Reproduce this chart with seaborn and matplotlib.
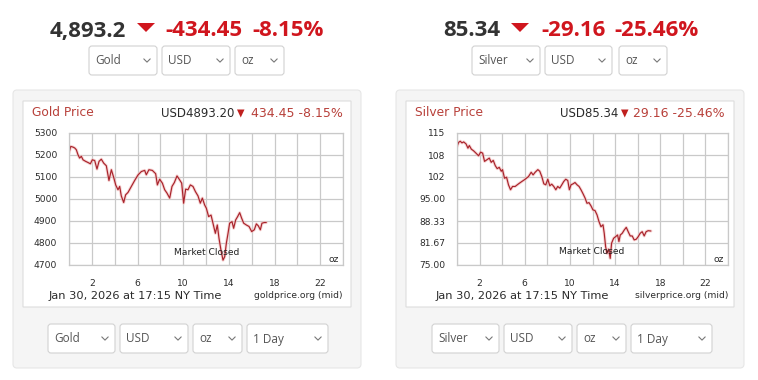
import pandas as pd
import matplotlib.pyplot as plt
import seaborn as sns
from matplotlib.patches import FancyBboxPatch, Polygon

# gold, hours since midnight vs price (USD/oz)
gold_hours = [0.0, 0.15, 0.35, 0.5, 0.64, 0.79, 0.93, 1.08, 1.23, 1.46, 1.66, 1.87, 2.04, 2.25, 2.45,
              2.63, 2.83, 3.04, 3.27, 3.5, 3.71, 3.91, 4.09, 4.29, 4.44, 4.58, 4.79, 4.96, 5.17, 5.46,
              5.75, 6.04, 6.34, 6.63, 6.77, 7.0, 7.3, 7.59, 7.74, 7.94, 8.18, 8.38, 8.58, 8.82, 9.02,
              9.23, 9.46, 9.69, 9.87, 10.04, 10.22, 10.42, 10.63, 10.86, 11.07, 11.3, 11.5, 11.68, 11.88,
              12.03, 12.23, 12.44, 12.61, 12.82, 12.99, 13.14, 13.31, 13.49, 13.64, 13.78, 13.93, 14.07,
              14.28, 14.42, 14.6, 14.77, 14.95, 15.12, 15.3, 15.53, 15.77, 16.0, 16.23, 16.41, 16.58,
              16.76, 16.9, 17.11, 17.28]
gold_prices = [5209, 5239, 5236, 5232, 5224, 5201, 5186, 5194, 5178, 5171, 5166, 5160, 5178, 5175, 5136,
               5171, 5181, 5163, 5151, 5084, 5133, 5099, 5064, 5042, 5057, 5014, 4984, 5019, 5030, 5057,
               5084, 5109, 5125, 5130, 5110, 5133, 5130, 5115, 5064, 5090, 5072, 5042, 5027, 5004, 5057,
               5075, 5105, 5087, 5072, 4981, 5045, 5042, 5064, 5057, 5034, 5014, 4981, 5004, 4973,
               4958, 4920, 4927, 4890, 4844, 4882, 4821, 4768, 4722, 4738, 4798, 4844, 4890,
               4897, 4867, 4905, 4920, 4938, 4913, 4890, 4882, 4875, 4852, 4860, 4887, 4878,
               4860, 4890, 4893, 4893]

silver_hours = [0.0, 0.15, 0.29, 0.44, 0.59, 0.8, 0.97, 1.09, 1.27, 1.47, 1.68, 1.91, 2.09, 2.27, 2.44,
                2.65, 2.86, 3.03, 3.21, 3.39, 3.56, 3.74, 3.92, 4.03, 4.21, 4.39, 4.56, 4.74, 4.92, 5.15,
                5.45, 5.74, 6.04, 6.33, 6.57, 6.74, 6.92, 7.16, 7.33, 7.51, 7.69, 7.86, 8.04, 8.22, 8.39,
                8.57, 8.75, 8.92, 9.1, 9.28, 9.45, 9.63, 9.81, 9.95, 10.1, 10.28, 10.45, 10.63, 10.81,
                10.98, 11.16, 11.34, 11.51, 11.69, 11.87, 12.04, 12.22, 12.4, 12.57, 12.75, 12.93, 13.04,
                13.16, 13.28, 13.43, 13.57, 13.69, 13.87, 14.05, 14.22, 14.34, 14.46, 14.63, 14.81, 14.99,
                15.16, 15.34, 15.52, 15.69, 15.87, 16.05, 16.22, 16.4, 16.58, 16.75, 16.93, 17.17]
silver_prices = [110.9, 112.2, 112.5, 112.0, 112.3, 111.7, 110.4, 111.2, 110.1, 109.6, 108.9, 108.1, 109.2,
                 108.9, 106.4, 106.9, 107.4, 106.1, 106.7, 105.1, 104.2, 104.6, 103.4, 103.9, 101.3, 101.6,
                 99.3, 97.8, 98.8, 98.8, 99.6, 100.3, 101.0, 101.8, 103.1, 102.3, 103.1, 103.9, 103.4, 101.8,
                 99.6, 99.3, 101.0, 99.0, 99.5, 98.8, 97.8, 98.8, 98.3, 99.3, 100.3, 101.0, 100.6, 97.8,
                 99.3, 99.6, 100.0, 99.3, 98.8, 97.8, 96.6, 95.3, 93.7, 93.9, 92.9, 91.7, 91.5, 90.2, 88.2,
                 86.6, 87.2, 84.6, 80.6, 78.5, 79.8, 77.0, 81.6, 83.1, 83.6, 84.1, 82.1, 84.1, 84.6, 85.6,
                 86.4, 85.1, 83.8, 83.8, 82.6, 82.8, 83.6, 84.6, 85.1, 83.8, 85.1, 85.4, 85.3]

hour_ticks = list(range(0, 25, 2))
hour_labels = ['', '2', '', '6', '', '10', '', '14', '', '18', '', '22', '']
gold_yticks = [4700, 4800, 4900, 5000, 5100, 5200, 5300]
gold_ylabels = ['4700', '4800', '4900', '5000', '5100', '5200', '5300']
silver_yticks = [75.0, 81.67, 88.33, 95.0, 101.67, 108.33, 115.0]
silver_ylabels = ['75.00', '81.67', '88.33', '95.00', '102', '108', '115']

sns.set_style('white')
plt.rcParams['font.family'] = ['DejaVu Sans']

RED = '#d0161e'
SOFT_RED = '#b8403a'
DARK = '#2b2b2b'
W, H = 758, 380

fig = plt.figure(figsize=(W / 100, H / 100), dpi=100)
bg = fig.add_axes([0, 0, 1, 1])
bg.set_xlim(0, W)
bg.set_ylim(H, 0)
bg.axis('off')


def box(x0, y0, x1, y1, fc, ec, r=3, lw=0.8):
    bg.add_patch(FancyBboxPatch((x0, y0), x1 - x0, y1 - y0, boxstyle=f'round,pad=0,rounding_size={r}',
                                fc=fc, ec=ec, lw=lw))


def dropdown(x0, x1, y0, y1, label):
    box(x0, y0, x1, y1, 'white', '#d2d2d2', r=3)
    ym = (y0 + y1) / 2
    bg.text(x0 + 6, ym + 0.5, label, fontsize=8.5, color='#555555', family='Open Sans', va='center', ha='left')
    cx = x1 - 10
    bg.plot([cx - 3.2, cx, cx + 3.2], [ym - 1.6, ym + 1.6, ym - 1.6], color='#777777', lw=0.8)


def down_tri(x0, x1, y0, y1, color):
    bg.add_patch(Polygon([(x0, y0), (x1, y0), ((x0 + x1) / 2, y1)], closed=True, fc=color, ec='none'))


def panel(ox, metal, price_big, tri_x, chg, pct, big_pos, top_dd, bot_dd, px0, px1,
          hours, prices, yticks, ylabels, ylim, title_price, chg_small, tri_small, site, footer_x, mc_pos):
    # header
    bg.text(big_pos[0], 31, price_big, fontsize=16, weight='bold', family='Open Sans', color='#333333',
            ha='left', va='center')
    down_tri(tri_x, tri_x + 18, 23, 32, RED)
    bg.text(big_pos[1], 31, chg, fontsize=16, weight='bold', family='Open Sans', color=RED, ha='left', va='center')
    bg.text(big_pos[2], 31, pct, fontsize=16, weight='bold', family='Open Sans', color=RED, ha='left', va='center')
    for (a, b, lab) in top_dd:
        dropdown(a, b, 46, 75, lab)

    # grey panel + white chart box
    box(ox, 90, ox + 348, 368, '#f5f5f5', '#e6e6e6', r=4)
    box(ox + 10, 101, ox + 338, 307, 'white', '#dddddd', r=0)
    for (a, b, lab) in bot_dd:
        dropdown(a, b, 324, 353, lab)

    bg.text(ox + 19, 112, f'{metal} Price', fontsize=8.8, color=SOFT_RED, ha='left', va='center')
    bg.text(chg_small[0], 113.5, chg_small[1], fontsize=9, color=SOFT_RED, ha='right', va='center')
    down_tri(tri_small, tri_small + 7.5, 109.5, 117.5, '#c0201e')
    bg.text(tri_small - 3, 113.5, title_price, fontsize=8.5, color=DARK, ha='right', va='center')
    bg.text(footer_x, 296, 'Jan 30, 2026 at 17:15 NY Time', fontsize=8.2, color=DARK, ha='left', va='center')
    bg.text(px1, 296, site, fontsize=6.6, color=DARK, ha='right', va='center')

    ax = fig.add_axes([px0 / W, 1 - 265 / H, (px1 - px0) / W, 132 / H])
    df = pd.DataFrame({'hour': hours, 'price': prices})
    sns.lineplot(data=df, x='hour', y='price', ax=ax, color='#f2b8b8', linewidth=2.2, alpha=0.6)
    sns.lineplot(data=df, x='hour', y='price', ax=ax, color='#a8232b', linewidth=0.85)
    ax.set_xlim(0, 24)
    ax.set_ylim(*ylim)
    ax.set_xticks(hour_ticks)
    ax.set_xticklabels(hour_labels)
    ax.set_yticks(yticks)
    ax.set_yticklabels(ylabels)
    ax.set_xlabel('')
    ax.set_ylabel('')
    ax.grid(True, color='#c9c9c9', linewidth=0.9)
    ax.set_axisbelow(True)
    for s in ax.spines.values():
        s.set_color('#c9c9c9')
        s.set_linewidth(0.9)
    ax.tick_params(axis='both', length=0, labelsize=6.6, colors=DARK)
    ax.tick_params(axis='x', pad=10)
    ax.tick_params(axis='y', pad=8.5)
    ax.text(mc_pos[0], mc_pos[1], 'Market Closed', fontsize=6.6, color='#222222', ha='center', va='center')
    ax.text(23.6, ylim[0] + (ylim[1] - ylim[0]) * 0.045, 'oz', fontsize=6.6, color=DARK, ha='right', va='center')
    return ax


panel(13, 'Gold', '4,893.2', 137, '-434.45', '-8.15%', (50, 165, 252),
      [(89, 157, 'Gold'), (162, 230, 'USD'), (235, 284, 'oz')],
      [(48, 115, 'Gold'), (120, 188, 'USD'), (193, 242, 'oz'), (247, 328, '1 Day')],
      69, 343, gold_hours, gold_prices, gold_yticks, gold_ylabels, (4700, 5300),
      'USD4893.20', (343, '434.45 -8.15%'), 237, 'goldprice.org (mid)', 49, (12.1, 4759))

panel(396, 'Silver', '85.34', 511, '-29.16', '-25.46%', (443, 541, 614),
      [(472, 540, 'Silver'), (545, 612, 'USD'), (619, 667, 'oz')],
      [(432, 499, 'Silver'), (504, 572, 'USD'), (577, 626, 'oz'), (631, 712, '1 Day')],
      457, 728, silver_hours, silver_prices, silver_yticks, silver_ylabels, (75, 115),
      'USD85.34', (725, '29.16 -25.46%'), 621, 'silverprice.org (mid)', 436, (11.95, 79))

fig.savefig('out.png', dpi=100)
